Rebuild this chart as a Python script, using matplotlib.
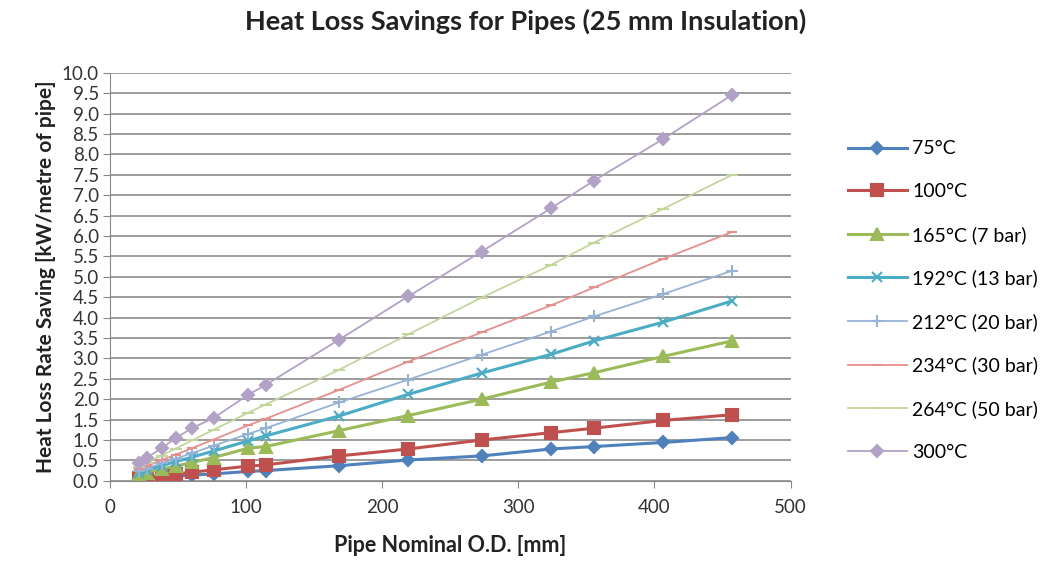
import matplotlib.pyplot as plt

# Data
pipe_od = [21.3, 26.9, 38, 48.3, 60.3, 76.1, 101.6, 114.3, 168.3, 219.1, 273, 323.9, 355.6, 406.4, 457]

s75 = [0.05, 0.06, 0.09, 0.11, 0.14, 0.17, 0.23, 0.25, 0.37, 0.51, 0.61, 0.78, 0.84, 0.94, 1.06]
s100 = [0.07, 0.10, 0.13, 0.17, 0.21, 0.27, 0.36, 0.39, 0.61, 0.78, 1.00, 1.18, 1.29, 1.48, 1.62]
s165 = [0.16, 0.20, 0.29, 0.36, 0.45, 0.57, 0.80, 0.84, 1.23, 1.60, 2.00, 2.42, 2.65, 3.05, 3.43]
s192 = [0.20, 0.26, 0.37, 0.47, 0.58, 0.73, 0.98, 1.10, 1.59, 2.12, 2.64, 3.10, 3.43, 3.89, 4.41]
s212 = [0.24, 0.30, 0.43, 0.54, 0.68, 0.86, 1.15, 1.29, 1.92, 2.48, 3.09, 3.66, 4.03, 4.58, 5.15]
s234 = [0.28, 0.36, 0.51, 0.64, 0.80, 1.01, 1.36, 1.52, 2.23, 2.92, 3.64, 4.30, 4.74, 5.44, 6.10]
s264 = [0.35, 0.44, 0.62, 0.79, 0.99, 1.25, 1.67, 1.87, 2.72, 3.59, 4.49, 5.29, 5.84, 6.67, 7.50]
s300 = [0.44, 0.56, 0.80, 1.05, 1.29, 1.54, 2.11, 2.35, 3.46, 4.52, 5.62, 6.68, 7.36, 8.38, 9.46]

labels = ['75°C', '100°C', '165°C (7 bar)', '192°C (13 bar)', '212°C (20 bar)',
          '234°C (30 bar)', '264°C (50 bar)', '300°C']

plt.rcParams['font.family'] = ['Lato', 'DejaVu Sans']

fig = plt.figure(figsize=(10.57, 5.65), dpi=100)
ax = fig.add_axes([0.104, 0.149, 0.644, 0.722])

styles = [
    (s75, '#4F81BD', 'D', 6, 2.2),
    (s100, '#C0504D', 's', 8, 2.2),
    (s165, '#9BBB59', '^', 8, 2.2),
    (s192, '#4BACC6', 'x', 7, 2.2),
    (s212, '#95B3D7', '+', 8, 1.3),
    (s234, '#E6908E', '_', 7, 1.3),
    (s264, '#C3D69B', '_', 9, 1.3),
    (s300, '#B3A2C7', 'D', 6, 1.3),
]
for (vals, col, mk, ms, lw), lab in zip(styles, labels):
    ax.plot(pipe_od, vals, color=col, marker=mk, markersize=ms, lw=lw,
            markeredgewidth=1.5, label=lab)

ax.set_xlim(0, 500)
ax.set_ylim(0, 10)
ax.set_xticks(range(0, 501, 100))
ax.set_yticks([i * 0.5 for i in range(21)])
ax.set_yticklabels([f'{i * 0.5:.1f}' for i in range(21)])
ax.yaxis.grid(True, color='#8c8c8c', lw=1.2)
ax.set_axisbelow(True)
for sp in ['top', 'right']:
    ax.spines[sp].set_visible(False)
for sp in ['left', 'bottom']:
    ax.spines[sp].set_color('#888888')
ax.tick_params(colors='#888888', labelcolor='#333333', labelsize=13.5, length=5)
ax.tick_params(axis='y', pad=3)
ax.tick_params(axis='x', pad=8)

fig.text(0.497, 0.962, 'Heat Loss Savings for Pipes (25 mm Insulation)', fontsize=19.5,
         fontweight='bold', color='#222222', ha='center', va='center')
ax.set_xlabel('Pipe Nominal O.D. [mm]', fontsize=15.5, fontweight='bold',
              color='#222222', labelpad=14)
ax.set_ylabel('Heat Loss Rate Saving [kW/metre of pipe]', fontsize=15,
              fontweight='bold', color='#222222', labelpad=4)

fig.legend(loc='center left', bbox_to_anchor=(0.786, 0.468), frameon=False,
           fontsize=14, labelspacing=1.32, handlelength=3.0, handletextpad=0.3)

plt.savefig('out.png', dpi=100)
